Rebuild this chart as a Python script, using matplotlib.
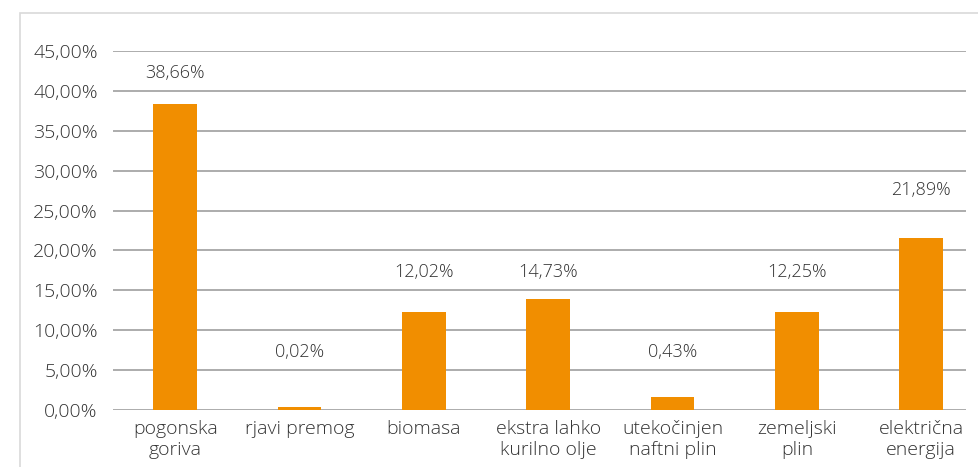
import matplotlib
matplotlib.use("Agg")
import matplotlib.pyplot as plt
from matplotlib.patches import Rectangle

# ── data ─────────────────────────────────────────────────────────────────────
categories   = ["pogonska\ngoriva", "rjavi premog", "biomasa",
                "ekstra lahko\nkurilno olje", "utekočinjen\nnaftni plin",
                "zemeljski\nplin", "električna\nenergija"]
bar_heights  = [38.35, 0.40, 12.28, 13.90, 1.66, 12.28, 21.55]   # as drawn
label_values = [38.66, 0.02, 12.02, 14.73, 0.43, 12.25, 21.89]   # as printed
yticks       = [0, 5, 10, 15, 20, 25, 30, 35, 40, 45]

# label placement (data units), as in the original
LABEL_Y = [42.2, 7.3, 17.3, 17.3, 7.3, 17.3, 27.6]

BAR_COLOR  = "#F18E00"
GRID_COLOR = "#A6A6A6"
TEXT_COLOR = "#333333"

plt.rcParams["font.family"] = ["Open Sans", "DejaVu Sans"]
plt.rcParams["font.weight"] = "light"

fig = plt.figure(figsize=(9.79, 4.67), dpi=100)
W, H = 979, 467
ax = fig.add_axes([113 / W, 1 - 410 / H, (966 - 113) / W, (410 - 51) / H])

# outer frame of the chart area
fig.patches.append(Rectangle((19.5 / W, -0.1), 1.2, 1 - 12.5 / H + 0.1,
                             transform=fig.transFigure, fill=False,
                             edgecolor="#D9D9D9", linewidth=1.2))

x = list(range(len(categories)))
ax.bar(x, bar_heights, width=0.35, color=BAR_COLOR, zorder=3)

for xi, v, ly in zip(x, label_values, LABEL_Y):
    ax.text(xi, ly, f"{v:.2f}%".replace(".", ","), ha="center", va="center",
            fontsize=13, color=TEXT_COLOR)

ax.set_ylim(0, 45)
ax.set_xlim(-0.50, 6.36)
ax.set_yticks(yticks)
ax.set_yticklabels([f"{t:.2f}%".replace(".", ",") for t in yticks])
ax.set_xticks(x)
ax.set_xticklabels(categories, linespacing=1.2)
ax.tick_params(axis="both", length=0, labelsize=14, colors=TEXT_COLOR)
ax.tick_params(axis="y", pad=11)
ax.tick_params(axis="x", pad=7)

ax.grid(axis="y", color=GRID_COLOR, linewidth=1.3, zorder=0)
for s in ax.spines.values():
    s.set_visible(False)

fig.savefig("out.png", dpi=100)
